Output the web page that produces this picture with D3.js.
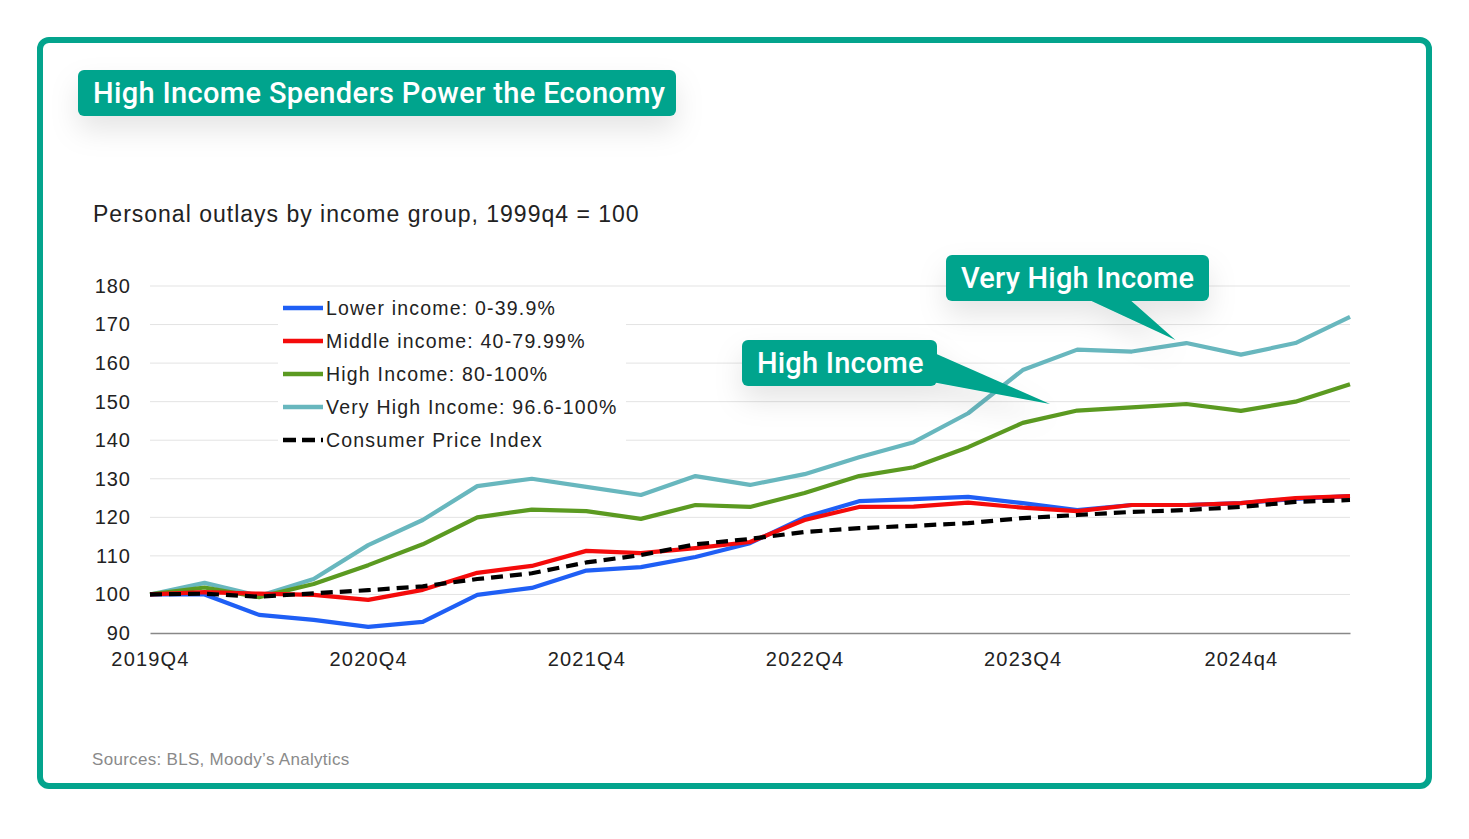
<!DOCTYPE html>
<html>
<head>
<meta charset="utf-8">
<script src="https://cdn.jsdelivr.net/npm/d3@7/dist/d3.min.js"></script>
<style>
  html, body { margin: 0; padding: 0; background: #fff; }
  svg { display: block; }
</style>
</head>
<body>
<div id="wrapper"></div>
<script>
// quarters on the x axis
const quarters = ["2019Q4","2020Q1","2020Q2","2020Q3","2020Q4","2021Q1","2021Q2","2021Q3",
  "2021Q4","2022Q1","2022Q2","2022Q3","2022Q4","2023Q1","2023Q2","2023Q3",
  "2023Q4","2024Q1","2024Q2","2024Q3","2024q4","2025Q1","2025Q2"]
const xTickLabels = ["2019Q4","2020Q4","2021Q4","2022Q4","2023Q4","2024q4"]
const yTicks = [90,100,110,120,130,140,150,160,170,180]

// series values
const lowerIncome = [100,100,94.7,93.4,91.6,92.9,99.9,101.7,106.2,107.1,109.7,113.3,120,124.2,124.7,125.3,123.7,121.9,123.2,123.2,123.7,124.8,125.5]
const middleIncome = [100,100.6,100.2,99.9,98.6,101.2,105.6,107.4,111.3,110.7,112,113.6,119.3,122.7,122.8,123.8,122.5,121.6,123.2,123.2,123.7,125,125.5]
const highIncome = [100,101.8,99.3,102.7,107.6,113,120,122,121.6,119.6,123.2,122.7,126.3,130.7,133,138.2,144.5,147.7,148.5,149.4,147.6,150,154.5]
const veryHighIncome = [100,103,99.6,104,112.8,119.3,128.1,130,127.9,125.8,130.7,128.4,131.2,135.6,139.5,147,158.2,163.5,163,165.2,162.2,165.2,172]
const cpi = [100,100.2,99.4,100.3,101.1,102.1,104,105.5,108.3,110.2,113,114.4,116.2,117.2,117.8,118.5,119.8,120.6,121.4,121.9,122.7,124,124.5]

const seriesNames = ["Lower income: 0-39.9%","Middle income: 40-79.99%","High Income: 80-100%","Very High Income: 96.6-100%","Consumer Price Index"]

const teal = "#03a48d"
const series = [
  { name: seriesNames[3], values: veryHighIncome, color: "#68b7be", dash: null },
  { name: seriesNames[2], values: highIncome, color: "#5b9a21", dash: null },
  { name: seriesNames[0], values: lowerIncome, color: "#1f5ff5", dash: null },
  { name: seriesNames[1], values: middleIncome, color: "#f40b0b", dash: null },
  { name: seriesNames[4], values: cpi, color: "#000", dash: "12,7" },
]
const legendOrder = [2, 3, 1, 0, 4] // lower, middle, high, very high, cpi

const width = 1469, height = 839
const plot = { left: 150, right: 1350, top: 286, bottom: 633 }
const chartFont = "'Liberation Sans', Arial, sans-serif"
const boldFont = "Roboto, 'Liberation Sans', sans-serif"

const svg = d3.select("#wrapper").append("svg")
  .attr("width", width).attr("height", height)
  .style("font-family", chartFont)

const defs = svg.append("defs")
const shadow = defs.append("filter").attr("id", "shadow")
  .attr("x", "-20%").attr("y", "-60%").attr("width", "140%").attr("height", "260%")
shadow.append("feDropShadow").attr("dx", 0).attr("dy", 14).attr("stdDeviation", 14)
  .attr("flood-color", "#000").attr("flood-opacity", 0.1)

// outer frame
svg.append("rect")
  .attr("x", 40).attr("y", 40).attr("width", 1389).attr("height", 746)
  .attr("rx", 9).attr("fill", "#fff").attr("stroke", teal).attr("stroke-width", 6)

// scales
const x = d3.scaleLinear().domain([0, quarters.length - 1]).range([plot.left, plot.right])
const y = d3.scaleLinear().domain([90, 180]).range([plot.bottom, plot.top])

// gridlines
svg.append("g").selectAll("line").data(yTicks.filter(t => t > 90)).join("line")
  .attr("x1", plot.left).attr("x2", plot.right)
  .attr("y1", d => y(d)).attr("y2", d => y(d))
  .attr("stroke", "#e3e3e3").attr("stroke-width", 1)

// y axis labels
const yAxis = svg.append("g")
  .attr("transform", `translate(${plot.left - 19},0)`)
  .call(d3.axisLeft(y).tickValues(yTicks).tickSize(0).tickPadding(0))
yAxis.select(".domain").remove()
yAxis.selectAll("text").attr("font-size", 20).attr("fill", "#222")
  .attr("font-family", chartFont).attr("letter-spacing", 1)

// x axis
const xAxis = svg.append("g")
  .attr("transform", `translate(0,${plot.bottom})`)
  .call(d3.axisBottom(x).tickValues(xTickLabels.map(l => quarters.indexOf(l)))
    .tickFormat(i => quarters[i]).tickSize(0).tickPadding(19))
xAxis.select(".domain").attr("stroke", "#888").attr("stroke-width", 1.5)
xAxis.selectAll("text").attr("font-size", 20).attr("fill", "#222")
  .attr("font-family", chartFont).attr("letter-spacing", 1.2)

// legend box
const legend = svg.append("g")
legend.append("rect").attr("x", 278).attr("y", 292).attr("width", 348).attr("height", 163).attr("fill", "#fff")
legendOrder.forEach((si, row) => {
  const s = series[si]
  const ly = 308 + row * 33
  legend.append("line").attr("x1", 283).attr("x2", 323).attr("y1", ly).attr("y2", ly)
    .attr("stroke", s.color).attr("stroke-width", 4.5)
    .attr("stroke-dasharray", s.dash ? "13,6" : null)
  legend.append("text").attr("x", 326).attr("y", ly + 7).text(s.name)
    .attr("font-size", 19.5).attr("fill", "#222").attr("letter-spacing", 1.2)
})

// lines
const line = d3.line().x((d, i) => x(i)).y(d => y(d))
svg.append("g").selectAll("path").data(series).join("path")
  .attr("d", d => line(d.values))
  .attr("fill", "none")
  .attr("stroke", d => d.color)
  .attr("stroke-width", 4.2)
  .attr("stroke-linejoin", "round")
  .attr("stroke-dasharray", d => d.dash)

// subtitle and source
svg.append("text").attr("x", 93).attr("y", 222).text("Personal outlays by income group, 1999q4 = 100")
  .attr("font-size", 23).attr("fill", "#222").attr("letter-spacing", 1)
svg.append("text").attr("x", 92).attr("y", 765).text("Sources: BLS, Moody\u2019s Analytics")
  .attr("font-size", 17).attr("fill", "#8a8a8a").attr("letter-spacing", 0.3)

// title box
const titleG = svg.append("g")
titleG.append("rect").attr("x", 78).attr("y", 70).attr("width", 598).attr("height", 46)
  .attr("rx", 6).attr("fill", teal).attr("filter", "url(#shadow)")
titleG.append("text").attr("x", 93).attr("y", 103).text("High Income Spenders Power the Economy")
  .attr("font-family", boldFont)
  .attr("font-weight", 500).attr("font-size", 29).attr("fill", "#fff").attr("letter-spacing", 0.35)

// annotations with pointers anchored to the data
function callout(label, box, base, tipIndex, tipValue) {
  const g = svg.append("g").attr("filter", "url(#shadow)")
  g.append("path")
    .attr("d", `M${base[0][0]},${base[0][1]}L${x(tipIndex)},${y(tipValue)}L${base[1][0]},${base[1][1]}Z`)
    .attr("fill", teal)
  g.append("rect").attr("x", box.x).attr("y", box.y).attr("width", box.w).attr("height", box.h)
    .attr("rx", 6).attr("fill", teal)
  svg.append("text").attr("x", box.x + 15).attr("y", box.y + 33).text(label)
    .attr("font-family", boldFont)
    .attr("font-weight", 500).attr("font-size", 29).attr("fill", "#fff").attr("letter-spacing", 0.2)
}
callout("Very High Income", { x: 946, y: 255, w: 263, h: 46 },
  [[1085, 298], [1128, 298]], 18.8, 166)
callout("High Income", { x: 742, y: 340, w: 195, h: 46 },
  [[932, 352], [932, 382]], 16.5, 149.4)
</script>
</body>
</html>
